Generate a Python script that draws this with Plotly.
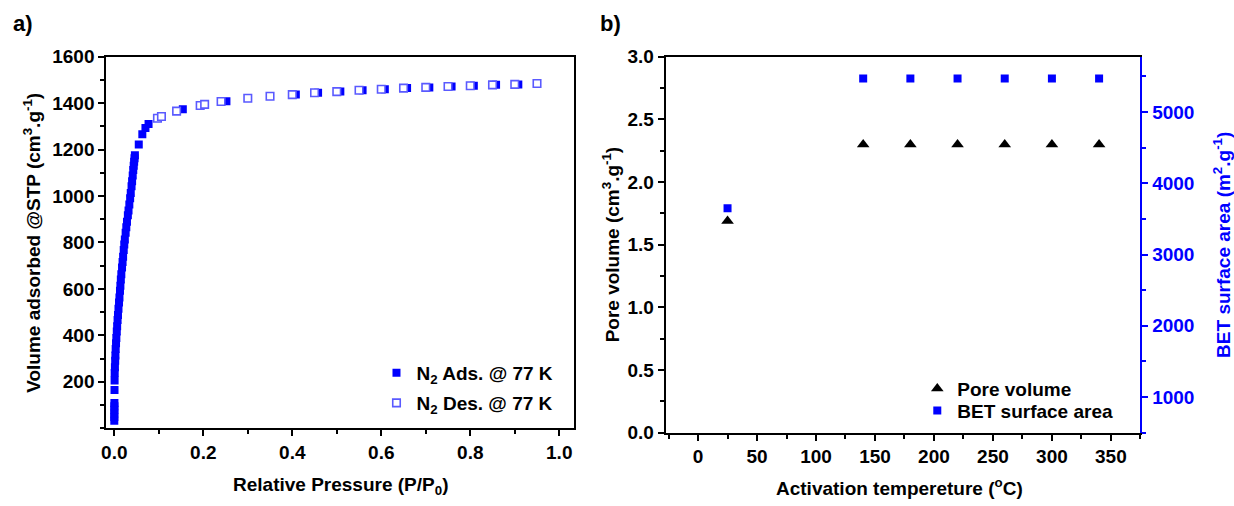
import plotly.graph_objects as go

# ---- Panel a: N2 isotherm at 77 K ----
ads_p = [0.0000, 0.0001, 0.0001, 0.0002, 0.0002, 0.0003, 0.0005, 0.0007,
         0.0009, 0.0014, 0.0020, 0.0025, 0.0031, 0.0039, 0.0046, 0.0056,
         0.0064, 0.0074, 0.0083, 0.0094, 0.0106, 0.0116, 0.0128, 0.0137,
         0.0147, 0.0158, 0.0174, 0.0186, 0.0198, 0.0212, 0.0224, 0.0237,
         0.0255, 0.0270, 0.0285, 0.0305, 0.0320, 0.0338, 0.0356, 0.0370,
         0.0388, 0.0400, 0.0414, 0.0426, 0.0436, 0.0446, 0.0455, 0.0463,
         0.055, 0.063, 0.070, 0.077, 0.154, 0.252,
         0.408, 0.458, 0.508, 0.558, 0.608, 0.658, 0.708, 0.758, 0.808,
         0.858, 0.908]
ads_v = [32, 48, 63, 79, 94, 109, 165, 205,
         238, 262, 291, 313, 341, 366, 388, 417,
         439, 466, 488, 514, 541, 563, 592, 614,
         641, 663, 692, 716, 739, 768, 791, 813,
         842, 866, 889, 917, 938, 964, 991, 1013,
         1042, 1064, 1089, 1112, 1131, 1148, 1163, 1176,
         1222, 1266, 1293, 1310, 1374, 1408,
         1437, 1445, 1450, 1456, 1460, 1465, 1468, 1472, 1475,
         1479, 1481]

des_p = [0.097, 0.106, 0.140, 0.193, 0.203, 0.240, 0.30, 0.35, 0.40, 0.45,
         0.50, 0.55, 0.60, 0.65, 0.70, 0.75, 0.80, 0.85, 0.90, 0.95]
des_v = [1335, 1343, 1366, 1390, 1395, 1407, 1421, 1430, 1437, 1445,
         1450, 1456, 1460, 1465, 1468, 1472, 1475, 1479, 1481, 1485]

# ---- Panel b: activation temperature series ----
act_temp = [25, 140, 180, 220, 260, 300, 340]
pore_volume = [1.69, 2.30, 2.30, 2.30, 2.30, 2.30, 2.30]
bet_area = [3650, 5470, 5470, 5470, 5470, 5470, 5470]

BLUE = "#0000FF"
LIGHT_BLUE = "#5a5aff"
FONT = "Liberation Sans"
W, H = 1234, 506
FS = 19


def px(x):
    return x / W


def py(y):
    return 1 - y / H


fig = go.Figure()

fig.add_trace(go.Scatter(
    x=ads_p, y=ads_v, mode="markers", name="N<sub>2</sub> Ads. @ 77 K",
    marker=dict(symbol="square", size=8, color=BLUE, line=dict(width=0)),
    xaxis="x", yaxis="y", legend="legend"))
fig.add_trace(go.Scatter(
    x=des_p, y=des_v, mode="markers", name="N<sub>2</sub> Des. @ 77 K",
    marker=dict(symbol="square", size=7.5, color="white",
                line=dict(width=1.6, color=LIGHT_BLUE)),
    xaxis="x", yaxis="y", legend="legend2"))

fig.add_trace(go.Scatter(
    x=act_temp, y=pore_volume, mode="markers", name="Pore volume",
    marker=dict(symbol="triangle-up", size=11, color="black", line=dict(width=0)),
    xaxis="x2", yaxis="y2", legend="legend3"))
fig.add_trace(go.Scatter(
    x=act_temp, y=bet_area, mode="markers", name="BET surface area",
    marker=dict(symbol="square", size=8, color=BLUE, line=dict(width=0)),
    xaxis="x2", yaxis="y3", legend="legend4"))

tick_font = dict(family=FONT, size=FS, color="black", weight="bold")
blue_tick_font = dict(family=FONT, size=FS, color=BLUE, weight="bold")

axis_common = dict(showgrid=False, zeroline=False, showline=True, linewidth=2,
                   linecolor="black", ticks="outside", ticklen=6, tickwidth=2,
                   tickcolor="black", tickfont=tick_font)

legend_common = dict(bgcolor="rgba(0,0,0,0)", borderwidth=0,
                     font=dict(family=FONT, size=FS, color="black", weight="bold"),
                     xanchor="left", yanchor="middle", itemwidth=30)

fig.update_layout(
    width=W, height=H,
    margin=dict(l=0, r=0, t=0, b=0),
    paper_bgcolor="white", plot_bgcolor="white",
    showlegend=True,
    xaxis=dict(axis_common, domain=[px(101.7), px(571.7)], range=[-0.018, 1.034],
               tickvals=[0, 0.2, 0.4, 0.6, 0.8, 1.0],
               ticktext=["0.0", "0.2", "0.4", "0.6", "0.8", "1.0"],
               mirror=True, anchor="y",
               minor=dict(dtick=0.1, tick0=0, ticks="outside", ticklen=4,
                          tickwidth=2, tickcolor="black")),
    yaxis=dict(axis_common, domain=[py(436.3), py(48.8)], range=[0, 1600],
               tickvals=[200, 400, 600, 800, 1000, 1200, 1400, 1600],
               mirror=True, anchor="x",
               minor=dict(dtick=100, tick0=0, ticks="outside", ticklen=4,
                          tickwidth=2, tickcolor="black")),
    xaxis2=dict(axis_common, domain=[px(663.3), px(1140)], range=[-27.5, 375],
                tickvals=[0, 50, 100, 150, 200, 250, 300, 350],
                mirror=True, anchor="y2",
                minor=dict(dtick=25, tick0=0, ticks="outside", ticklen=4,
                           tickwidth=2, tickcolor="black")),
    yaxis2=dict(axis_common, domain=[py(441), py(48.8)], range=[0, 3.0],
                tickvals=[0, 0.5, 1.0, 1.5, 2.0, 2.5, 3.0],
                ticktext=["0.0", "0.5", "1.0", "1.5", "2.0", "2.5", "3.0"],
                anchor="x2",
                minor=dict(dtick=0.25, tick0=0, ticks="outside", ticklen=4,
                           tickwidth=2, tickcolor="black")),
    yaxis3=dict(axis_common, range=[500, 5775], overlaying="y2", side="right",
                anchor="x2", linecolor=BLUE, tickcolor=BLUE,
                tickfont=blue_tick_font,
                tickvals=[1000, 2000, 3000, 4000, 5000],
                minor=dict(dtick=500, tick0=0, ticks="outside", ticklen=4,
                           tickwidth=2, tickcolor=BLUE)),
    legend=dict(legend_common, x=px(373), y=py(378.5)),
    legend2=dict(legend_common, x=px(373), y=py(410)),
    legend3=dict(legend_common, x=px(916), y=py(395)),
    legend4=dict(legend_common, x=px(916), y=py(418)),
)

title_font = dict(family=FONT, size=FS, color="black", weight="bold")
annotations = [
    dict(text="a)", x=px(18), y=py(14), font=dict(family=FONT, size=22, color="black", weight="bold")),
    dict(text="b)", x=px(608), y=py(14), font=dict(family=FONT, size=22, color="black", weight="bold")),
    dict(text="Relative Pressure (P/P<sub>0</sub>)", x=px(337), y=py(497), font=title_font),
    dict(text="Volume adsorbed @STP (cm<sup>3</sup>.g<sup>-1</sup>)", x=px(27), y=py(243),
         textangle=-90, font=title_font),
    dict(text="Activation tempereture (<sup>o</sup>C)", x=px(898), y=py(498), font=title_font),
    dict(text="Pore volume (cm<sup>3</sup>.g<sup>-1</sup>)", x=px(608), y=py(245),
         textangle=-90, font=title_font),
    dict(text="BET surface area (m<sup>2</sup>.g<sup>-1</sup>)", x=px(1222), y=py(245),
         textangle=-90, font=dict(family=FONT, size=FS, color=BLUE, weight="bold")),
]
for a in annotations:
    a.update(xref="paper", yref="paper", showarrow=False,
             xanchor="center", yanchor="middle")
fig.update_layout(annotations=annotations)

fig.write_html("out.html")
